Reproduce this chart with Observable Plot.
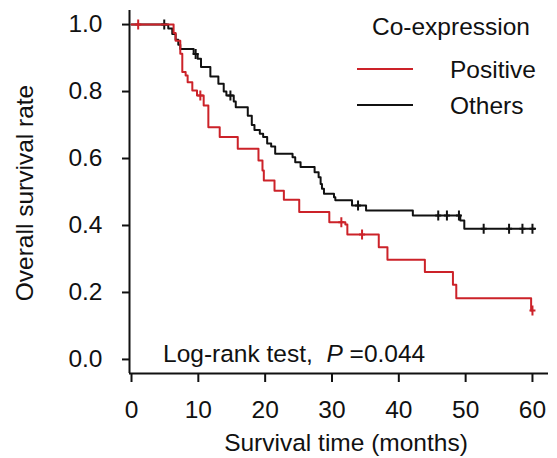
<!DOCTYPE html>
<html><head><meta charset="utf-8">
<script src="https://cdn.jsdelivr.net/npm/d3@7"></script>
<script src="https://cdn.jsdelivr.net/npm/@observablehq/plot@0.6"></script>
<style>body{margin:0;background:#fff}</style>
</head><body><div id="chart"></div>
<script>
// Kaplan–Meier step points (time in months, survival after step)
const posTime = [0, 6.3, 6.6, 7.3, 7.6, 8.1, 8.4, 9.1, 9.8, 10.8, 11.5, 13.2, 15.9, 19.0, 19.6, 19.8, 21.4, 22.8, 25.1, 29.6, 32.0, 32.3, 37.0, 38.3, 43.9, 48.1, 48.6, 59.8, 60.0];
const posSurv = [1.0, 0.975, 0.952, 0.913, 0.858, 0.848, 0.828, 0.803, 0.788, 0.758, 0.693, 0.664, 0.629, 0.594, 0.564, 0.534, 0.504, 0.477, 0.440, 0.410, 0.403, 0.373, 0.335, 0.298, 0.261, 0.223, 0.183, 0.146, 0.146];
const posCensorTime = [1.0, 10.3, 31.4, 34.5, 60.0];
const posCensorSurv = [1.0, 0.788, 0.410, 0.373, 0.146];

const othTime = [0, 5.5, 6.1, 6.6, 7.0, 7.3, 9.3, 9.9, 10.4, 11.8, 13.0, 13.8, 14.2, 15.3, 15.6, 17.4, 18.0, 18.4, 19.2, 19.7, 20.3, 20.9, 21.5, 24.1, 24.5, 25.3, 27.4, 28.0, 28.3, 28.5, 28.8, 30.3, 30.5, 33.0, 35.1, 42.1, 49.2, 49.8, 60.4];
const othSurv = [1.0, 0.988, 0.972, 0.955, 0.940, 0.927, 0.912, 0.898, 0.873, 0.845, 0.823, 0.800, 0.788, 0.770, 0.753, 0.728, 0.700, 0.685, 0.674, 0.664, 0.645, 0.636, 0.614, 0.604, 0.589, 0.575, 0.559, 0.544, 0.524, 0.510, 0.495, 0.484, 0.475, 0.460, 0.445, 0.430, 0.415, 0.390, 0.390];
const othCensorTime = [4.9, 9.6, 14.8, 33.9, 45.9, 47.2, 49.0, 52.7, 56.5, 58.5, 60.0];
const othCensorSurv = [1.0, 0.912, 0.788, 0.460, 0.430, 0.430, 0.430, 0.390, 0.390, 0.390, 0.390];

const xTicks = [0, 10, 20, 30, 40, 50, 60];
const yTicks = [0, 0.2, 0.4, 0.6, 0.8, 1.0];
const groupNames = ["Positive", "Others"];
const groupColors = ["#cc2229", "#111111"];
const legendTitle = "Co-expression";
const xLabel = "Survival time (months)";
const yLabel = "Overall survival rate";
const testLabel = "Log-rank test,";
const pLabel = "P";
const pValue = "=0.044";

const xMin = -0.3, xMax = 62.4, yMin = -0.042, yMax = 1.042;
const FS = 24.5;
const FONT = "'Liberation Sans', Arial, sans-serif";

const pos = posTime.map((t, i) => ({t, s: posSurv[i]}));
const oth = othTime.map((t, i) => ({t, s: othSurv[i]}));
const posC = posCensorTime.map((t, i) => ({t, s: posCensorSurv[i]}));
const othC = othCensorTime.map((t, i) => ({t, s: othCensorSurv[i]}));

const censorSymbol = {
  draw(ctx, size) {
    const h = Math.sqrt(size / Math.PI);
    ctx.moveTo(0, -h); ctx.lineTo(0, h);
    ctx.moveTo(-h * 0.6, 0); ctx.lineTo(h * 0.6, 0);
  }
};

function overlay() {
  const g = d3.create("svg:g")
    .attr("font-family", FONT)
    .attr("font-size", FS).attr("fill", "#111")
    .attr("text-anchor", "start");
  // axis titles
  g.append("text").attr("x", 346).attr("y", 451).attr("text-anchor", "middle").text(xLabel);
  g.append("text").attr("transform", "translate(33,193) rotate(-90)")
    .attr("text-anchor", "middle").text(yLabel);
  // legend
  g.append("text").attr("x", 372).attr("y", 35).text(legendTitle);
  groupNames.forEach((name, i) => {
    const cy = 69 + i * 36;
    g.append("line").attr("x1", 357).attr("x2", 413)
      .attr("y1", cy).attr("y2", cy)
      .attr("stroke", groupColors[i]).attr("stroke-width", 2);
    g.append("text").attr("x", 450).attr("y", cy + 8.5).text(name);
  });
  // log-rank annotation
  const t = g.append("text").attr("x", 163).attr("y", 362);
  t.append("tspan").text(testLabel + "\u00a0\u00a0");
  t.append("tspan").attr("font-style", "italic").text(pLabel);
  t.append("tspan").text("\u00a0" + pValue);
  return g.node();
}

const chart = Plot.plot({
  width: 557, height: 458,
  marginLeft: 129, marginRight: 9, marginTop: 10, marginBottom: 85,
  style: {fontFamily: FONT, fontSize: FS + "px", color: "#111", background: "#fff"},
  x: {domain: [xMin, xMax]},
  y: {domain: [yMin, yMax]},
  marks: [
    Plot.ruleX([xMin], {stroke: "#111", strokeWidth: 2}),
    Plot.ruleY([yMin], {stroke: "#111", strokeWidth: 2}),
    Plot.axisY({ticks: yTicks, tickFormat: d => d.toFixed(1), tickSize: 7, tickPadding: 20, strokeWidth: 2, label: null, fontSize: FS}),
    Plot.axisX({ticks: xTicks, tickSize: 9, tickPadding: 18, strokeWidth: 2, label: null, fontSize: FS}),
    Plot.line(oth, {x: "t", y: "s", curve: "step-after", stroke: groupColors[1], strokeWidth: 2}),
    Plot.dot(othC, {x: "t", y: "s", symbol: censorSymbol, r: 5, stroke: groupColors[1], strokeWidth: 2}),
    Plot.line(pos, {x: "t", y: "s", curve: "step-after", stroke: groupColors[0], strokeWidth: 2}),
    Plot.dot(posC, {x: "t", y: "s", symbol: censorSymbol, r: 5, stroke: groupColors[0], strokeWidth: 2}),
    overlay
  ]
});
document.getElementById("chart").appendChild(chart);
</script>
</body></html>
